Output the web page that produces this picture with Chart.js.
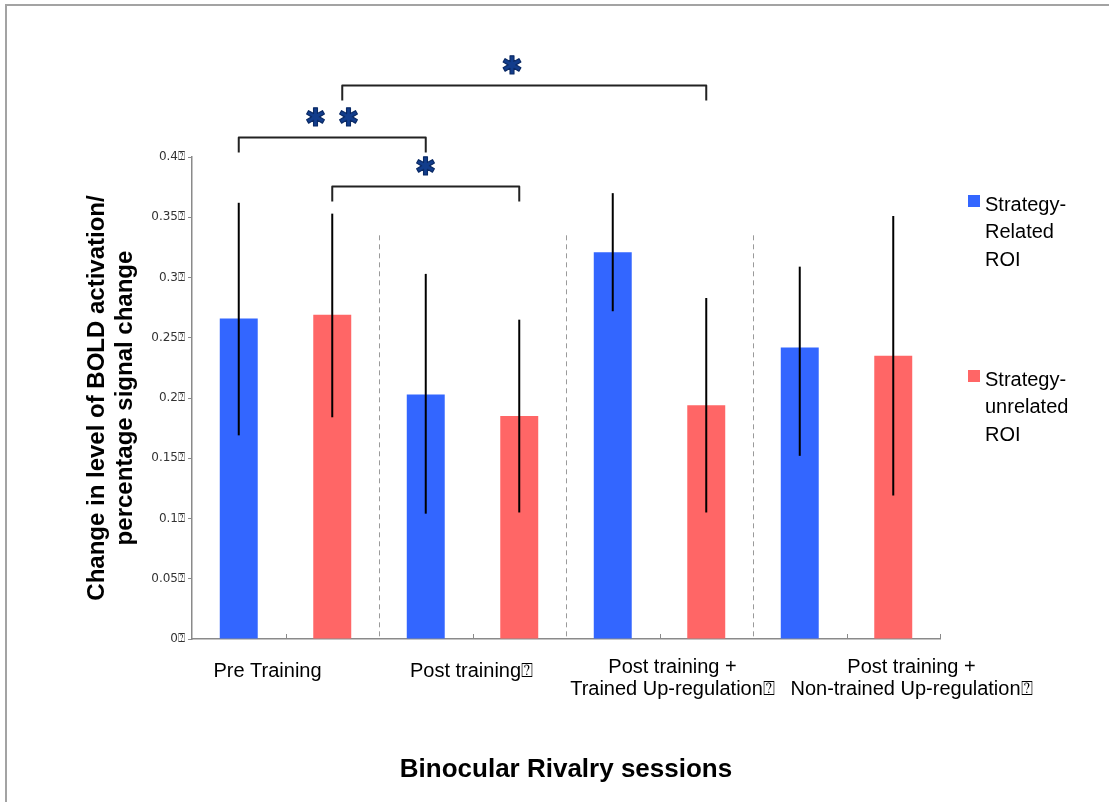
<!DOCTYPE html>
<html>
<head>
<meta charset="utf-8">
<title>BOLD activation by session</title>
<script src="https://cdn.jsdelivr.net/npm/chart.js@4.4.1/dist/chart.umd.min.js"></script>
<style>
    html, body { margin: 0; padding: 0; background: #fff; overflow: hidden; }
    #frame { position: absolute; left: 5px; top: 4px; width: 1200px; height: 900px;
             border-top: 2px solid #a3a3a3; border-left: 2px solid #a3a3a3; }
    #wrap { position: absolute; left: 0; top: 0; width: 1109px; height: 802px; }
</style>
</head>
<body>
<div id="frame"></div>
<div id="wrap"><canvas id="boldChart"></canvas></div>
<script>
// Sessions (x categories)
const sessions = [
    ['Pre Training'],
    ['Post training\u2370'],
    ['Post training +', 'Trained Up-regulation\u2370'],
    ['Post training +', 'Non-trained Up-regulation\u2370']
];

// Legend names, one line per entry
const seriesNames = [
    ['Strategy-', 'Related', 'ROI'],
    ['Strategy-', 'unrelated', 'ROI']
];

// Mean percentage signal change
const relatedMean = [0.266, 0.203, 0.321, 0.242];
const unrelatedMean = [0.269, 0.185, 0.194, 0.235];

// Error bar ends
const relatedHigh = [0.362, 0.303, 0.370, 0.309];
const relatedLow = [0.169, 0.104, 0.272, 0.152];
const unrelatedHigh = [0.353, 0.265, 0.283, 0.351];
const unrelatedLow = [0.184, 0.105, 0.105, 0.119];

// y axis ticks
const yTicks = [0, 0.05, 0.1, 0.15, 0.2, 0.25, 0.3, 0.35, 0.4];

// Significance brackets: [series, session] pairs, bracket height (y units), stars
const bracketFrom = [[0, 0], [1, 0], [1, 0]];
const bracketTo = [[0, 1], [1, 1], [1, 2]];
const bracketLevel = [0.4166, 0.376, 0.4598];
const bracketStars = [2, 1, 1];

const seriesColors = ['#3366ff', '#ff6666'];
const errorHigh = [relatedHigh, unrelatedHigh];
const errorLow = [relatedLow, unrelatedLow];

const FONT = "'Liberation Sans', Arial, sans-serif";

// Draws error bars, separators, brackets, category labels and legend
const overlayPlugin = {
    id: 'overlay',
    beforeDatasetsDraw(chart) {
        const { ctx, chartArea } = chart;
        const x = chart.scales.x;
        const y = chart.scales.y;
        ctx.save();
        // dashed separators between sessions
        ctx.strokeStyle = '#9a9a9a';
        ctx.lineWidth = 1;
        ctx.setLineDash([5, 4]);
        for (let i = 1; i < sessions.length; i++) {
            const px = Math.round((x.getPixelForValue(i - 1) + x.getPixelForValue(i)) / 2) + 0.5;
            ctx.beginPath();
            ctx.moveTo(px, y.getPixelForValue(0.335));
            ctx.lineTo(px, chartArea.bottom);
            ctx.stroke();
        }
        // small upward tick marks
        ctx.setLineDash([]);
        ctx.strokeStyle = '#8a8a8a';
        const marks = sessions.map((s, i) => x.getPixelForValue(i)).concat([chartArea.right]);
        marks.forEach(m => {
            const px = Math.round(m) + 0.5;
            ctx.beginPath();
            ctx.moveTo(px, chartArea.bottom);
            ctx.lineTo(px, chartArea.bottom - 5);
            ctx.stroke();
        });
        ctx.restore();
    },
    afterDatasetsDraw(chart) {
        const { ctx } = chart;
        const y = chart.scales.y;
        ctx.save();
        ctx.strokeStyle = '#000';
        ctx.lineWidth = 2;
        [0, 1].forEach(d => {
            chart.getDatasetMeta(d).data.forEach((bar, i) => {
                ctx.beginPath();
                ctx.moveTo(bar.x, y.getPixelForValue(errorHigh[d][i]));
                ctx.lineTo(bar.x, y.getPixelForValue(errorLow[d][i]));
                ctx.stroke();
            });
        });
        ctx.restore();
    },
    afterDraw(chart) {
        const { ctx, chartArea } = chart;
        const x = chart.scales.x;
        const y = chart.scales.y;
        ctx.save();

        // significance brackets
        ctx.lineJoin = 'round';
        ctx.textAlign = 'center';
        ctx.textBaseline = 'middle';
        bracketLevel.forEach((lvl, k) => {
            let a = chart.getDatasetMeta(bracketFrom[k][0]).data[bracketFrom[k][1]].x;
            const b = chart.getDatasetMeta(bracketTo[k][0]).data[bracketTo[k][1]].x;
            if (k === 2) a += 10; // top bracket starts a little right of the bar
            const top = Math.round(y.getPixelForValue(lvl)) + 0.5;
            ctx.strokeStyle = '#222';
            ctx.lineWidth = 2;
            ctx.beginPath();
            ctx.moveTo(a, top + 15);
            ctx.lineTo(a, top);
            ctx.lineTo(b, top);
            ctx.lineTo(b, top + 15);
            ctx.stroke();
            ctx.fillStyle = '#123d8c';
            ctx.strokeStyle = '#0a2a66';
            ctx.lineWidth = 1.2;
            ctx.font = 'bold 25px "DejaVu Sans", sans-serif';
            const mid = (a + b) / 2 - (k === 2 ? 12 : 0);
            const n = bracketStars[k];
            for (let s = 0; s < n; s++) {
                const sx = mid + (s - (n - 1) / 2) * 33;
                ctx.fillText('\u2731', sx, top - 18);
                ctx.strokeText('\u2731', sx, top - 18);
            }
        });

        // session labels under the axis
        const shift = [-18, -1, 13, 65];
        ctx.fillStyle = '#000';
        ctx.font = '20px ' + FONT;
        chart.data.labels.forEach((lines, i) => {
            const cx = x.getPixelForValue(i) + shift[i];
            const y0 = lines.length > 1 ? chartArea.bottom + 28 : chartArea.bottom + 32;
            lines.forEach((t, j) => ctx.fillText(t, cx, y0 + j * 22));
        });

        // legend
        ctx.textAlign = 'left';
        const lx = chartArea.right + 28;
        const tops = [chartArea.top + 38, chartArea.top + 213];
        chart.data.datasets.forEach((ds, d) => {
            ctx.fillStyle = ds.backgroundColor;
            ctx.fillRect(lx, tops[d], 12, 12);
            ctx.fillStyle = '#000';
            seriesNames[d].forEach((t, j) => ctx.fillText(t, lx + 17, tops[d] + 10 + j * 27.5));
        });
        ctx.restore();
    }
};

const ctx = document.getElementById('boldChart').getContext('2d');
new Chart(ctx, {
    type: 'bar',
    data: {
        labels: sessions,
        datasets: [{
            label: seriesNames[0].join(' '),
            data: relatedMean,
            backgroundColor: seriesColors[0],
            barPercentage: 0.406,
            categoryPercentage: 1.0
        }, {
            label: seriesNames[1].join(' '),
            data: unrelatedMean,
            backgroundColor: seriesColors[1],
            barPercentage: 0.406,
            categoryPercentage: 1.0
        }]
    },
    options: {
        responsive: true,
        maintainAspectRatio: false,
        animation: false,
        layout: { padding: { top: 157, right: 169, bottom: 0, left: 0 } },
        plugins: {
            legend: { display: false },
            tooltip: { enabled: false }
        },
        scales: {
            x: {
                grid: { display: false },
                border: { display: true, color: '#8a8a8a', width: 1.5 },
                ticks: { display: false },
                title: {
                    display: true,
                    text: 'Binocular Rivalry sessions',
                    color: '#000',
                    font: { family: FONT, size: 26, weight: 'bold' },
                    padding: { top: 0, bottom: 17 }
                },
                afterFit: (scale) => { scale.height = 163; }
            },
            y: {
                min: 0,
                max: 0.4,
                afterBuildTicks: (scale) => { scale.ticks = yTicks.map(v => ({ value: v })); },
                border: { display: true, color: '#8a8a8a', width: 1.5 },
                grid: { drawOnChartArea: false, tickLength: 4, color: '#8a8a8a' },
                ticks: {
                    padding: 3,
                    color: '#333',
                    font: { family: "'DejaVu Sans', Verdana, sans-serif", size: 12 },
                    callback: (v) => (Math.round(v * 100) / 100) + '\u2370'
                },
                title: {
                    display: true,
                    text: ['Change in level of BOLD activation/', 'percentage signal change'],
                    color: '#000',
                    font: { family: FONT, size: 24, weight: 'bold', lineHeight: 1.15 },
                    padding: { top: 84, bottom: 0 }
                },
                afterFit: (scale) => { scale.width = 192; }
            }
        }
    },
    plugins: [overlayPlugin]
});
</script>
</body>
</html>
